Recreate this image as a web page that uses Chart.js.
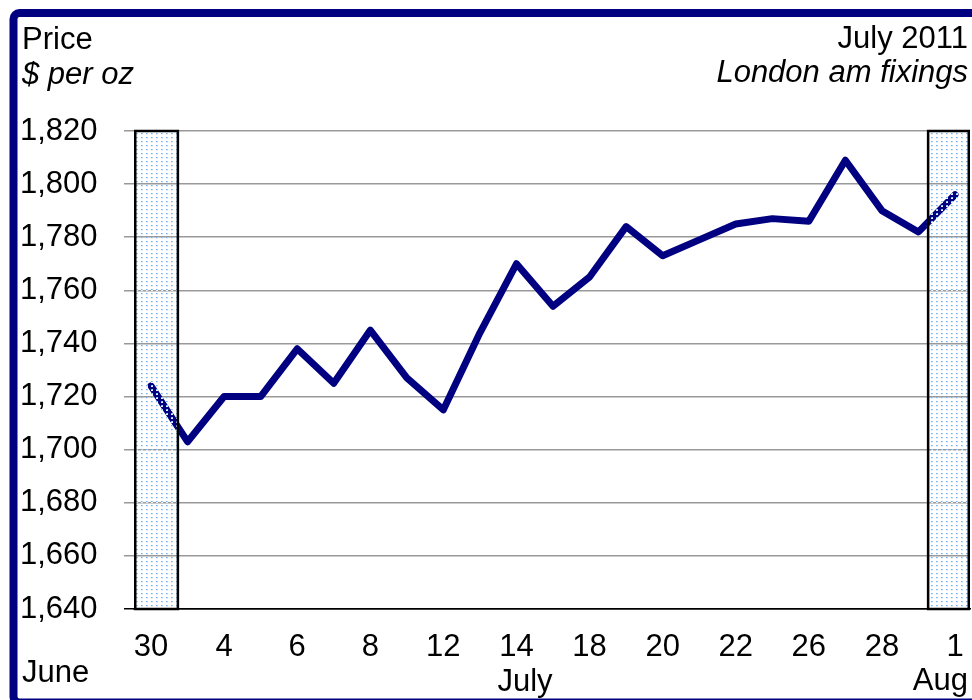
<!DOCTYPE html>
<html>
<head>
<meta charset="utf-8">
<script src="https://cdn.jsdelivr.net/npm/chart.js@4/dist/chart.umd.min.js"></script>
<style>
  body { margin: 0; background: #fff; }
  #wrap { width: 972px; height: 700px; }
</style>
</head>
<body>
<div id="wrap"><canvas id="priceChart" width="972" height="700"></canvas></div>
<script>
// trading days, June 30 2011 to Aug 1 2011
const dayLabels = ['30', '1', '4', '5', '6', '7', '8', '11', '12', '13', '14', '15',
                   '18', '19', '20', '21', '22', '25', '26', '27', '28', '29', '1'];
// London am fixings, $ per oz
const prices = [1724, 1703, 1720, 1720, 1738, 1725, 1745, 1727, 1715, 1744, 1770, 1754,
                1765, 1784, 1773, 1779, 1785, 1787, 1786, 1809, 1790, 1782, 1796];
const yTicks = [1640, 1660, 1680, 1700, 1720, 1740, 1760, 1780, 1800, 1820];
const shownTicks = [0, 2, 4, 6, 8, 10, 12, 14, 16, 18, 20, 22];
// shaded ranges outside July, in day-index units
const outsideMonth = [[-0.465, 0.77], [21.23, 22.41]];

const FONT = '"Liberation Sans", Arial, sans-serif';
const FONT_SIZE = 31;
const NAVY = '#000080';

// small dotted tile for the shaded bands
const makeDots = (ctx) => {
    const tile = document.createElement('canvas');
    tile.width = 5;
    tile.height = 4;
    const t = tile.getContext('2d');
    t.fillStyle = '#6fb0ee';
    t.fillRect(1, 1, 1, 1);
    t.fillStyle = '#a6cff5';
    t.fillRect(2, 1, 1, 1);
    t.fillStyle = '#e6f1fc';
    t.fillRect(1, 2, 2, 1);
    return ctx.createPattern(tile, 'repeat');
};

const decorations = {
    id: 'decorations',
    beforeDraw(chart) {
        const ctx = chart.ctx;
        ctx.save();
        // frame, runs off the right and bottom edges
        ctx.strokeStyle = NAVY;
        ctx.lineWidth = 8;
        ctx.beginPath();
        ctx.roundRect(13.5, 13, 1100, 689.5, 6);
        ctx.stroke();
        ctx.restore();
    },
    afterDatasetsDraw(chart) {
        const ctx = chart.ctx;
        const x = chart.scales.x;
        const area = chart.chartArea;
        ctx.save();
        const dots = makeDots(ctx);
        outsideMonth.forEach(([a, b]) => {
            const x0 = Math.max(x.getPixelForValue(a), area.left);
            const x1 = Math.min(x.getPixelForValue(b), area.right);
            ctx.fillStyle = dots;
            ctx.fillRect(x0, area.top, x1 - x0, area.bottom - area.top);
            ctx.strokeStyle = '#000';
            ctx.lineWidth = 2.5;
            ctx.strokeRect(x0 + 1.25, area.top, x1 - x0 - 2.5, area.bottom - area.top);
        });
        ctx.restore();
    },
    afterDraw(chart) {
        const ctx = chart.ctx;
        ctx.save();
        ctx.fillStyle = '#000';
        ctx.textBaseline = 'alphabetic';
        ctx.font = FONT_SIZE + 'px ' + FONT;
        ctx.textAlign = 'left';
        ctx.fillText('Price', 22, 49);
        ctx.fillText('June', 22, 682);
        ctx.textAlign = 'right';
        ctx.fillText('July 2011', 968, 48);
        ctx.fillText('Aug', 968, 690);
        ctx.textAlign = 'center';
        ctx.fillText('July', 525, 691);
        ctx.font = 'italic ' + FONT_SIZE + 'px ' + FONT;
        ctx.textAlign = 'left';
        ctx.fillText('$ per oz', 22, 84);
        ctx.textAlign = 'right';
        ctx.fillText('London am fixings', 968, 82);
        ctx.restore();
    }
};

new Chart(document.getElementById('priceChart'), {
    type: 'line',
    data: {
        datasets: [{
            data: prices.map((p, i) => ({ x: i, y: p })),
            borderColor: NAVY,
            borderWidth: 7,
            borderCapStyle: 'round',
            borderJoinStyle: 'round',
            pointRadius: 0,
            tension: 0,
            fill: false
        }]
    },
    options: {
        responsive: false,
        animation: false,
        layout: { autoPadding: false, padding: { left: 20, top: 131, right: 2, bottom: 0 } },
        plugins: {
            legend: { display: false },
            tooltip: { enabled: false }
        },
        scales: {
            x: {
                type: 'linear',
                min: outsideMonth[0][0],
                max: outsideMonth[1][1],
                afterBuildTicks: (scale) => {
                    scale.ticks = shownTicks.map(v => ({ value: v }));
                },
                afterFit: (scale) => {
                    scale.height = 91;
                    scale.paddingLeft = 0;
                    scale.paddingRight = 0;
                },
                grid: { display: false, drawTicks: false },
                border: { display: true, color: '#000', width: 1.5 },
                ticks: {
                    padding: 20,
                    maxRotation: 0,
                    autoSkip: false,
                    color: '#000',
                    font: { family: FONT, size: FONT_SIZE },
                    callback: (v) => dayLabels[v]
                }
            },
            y: {
                min: yTicks[0],
                max: yTicks[yTicks.length - 1],
                afterBuildTicks: (scale) => {
                    scale.ticks = yTicks.map(v => ({ value: v }));
                },
                afterFit: (scale) => { scale.width = 114; },
                grid: {
                    color: (c) => (c.tick && c.tick.value === yTicks[0]) ? '#000' : '#999',
                    lineWidth: 1.5,
                    tickLength: 10
                },
                border: { display: false },
                ticks: {
                    crossAlign: 'far',
                    color: '#000',
                    font: { family: FONT, size: FONT_SIZE },
                    callback: (v) => v.toLocaleString('en-US')
                }
            }
        }
    },
    plugins: [decorations]
});
</script>
</body>
</html>
